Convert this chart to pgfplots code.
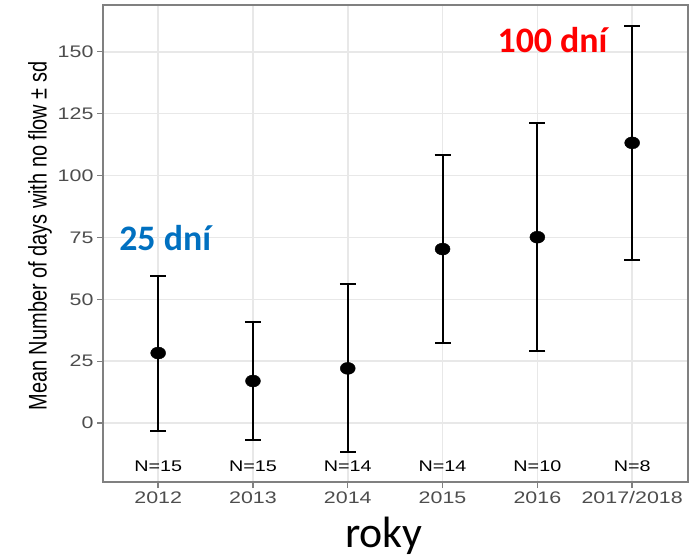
\documentclass[border=0pt]{standalone}
\usepackage{fontspec}
\setmainfont{Liberation Sans}
\newfontfamily\ggfont[FakeStretch=1.28]{Liberation Sans}
\newfontfamily\calib{Carlito}
\usepackage{graphicx}
\usepackage{pgfplots}
\pgfplotsset{compat=1.18}
\definecolor{gridgrey}{RGB}{232,232,232}
\definecolor{framegrey}{RGB}{128,128,128}
\definecolor{ticktext}{RGB}{77,77,77}
\definecolor{annblue}{RGB}{0,112,192}
\definecolor{annred}{RGB}{255,0,0}
\begin{document}
\begin{tikzpicture}
\begin{axis}[name=ax, scale only axis, width=585bp, height=477bp,
  xmin=-0.582, xmax=5.589, ymin=-23.8, ymax=168.9,
  xtick={0,...,5}, xticklabels={2012,2013,2014,2015,2016,2017/2018},
  ytick={0,25,...,150},
  /pgf/number format/assume math mode=true,
  grid=major, grid style={color=gridgrey, line width=1.5bp},
  axis line style={color=framegrey, line width=1.4bp},
  tick style={color=framegrey, line width=1.4bp},
  tick align=outside, major tick length=6bp,
  xtick pos=bottom, ytick pos=left,
  tick label style={font=\ggfont\fontsize{16.8}{18}\selectfont, text=ticktext},
  clip=false]
\addplot[black, only marks, mark=*, mark size=6bp, mark options={xscale=1.25, fill=black},
  error bars/.cd, y dir=both, y explicit,
  error bar style={line width=2bp, black},
  error mark options={rotate=90, mark size=8bp, line width=2bp, black}]
  coordinates {
  (0,28.3) +- (0,31.3)
  (1,17.0) +- (0,24.0)
  (2,22.1) +- (0,33.9)
  (3,70.3) +- (0,38.0)
  (4,75.1) +- (0,46.0)
  (5,113.2) +- (0,47.3)
  };
\begin{scope}[every node/.style={font=\ggfont\fontsize{15.5}{17}\selectfont, text=black}]
\node at (axis cs:0,-17.3) {N=15};
\node at (axis cs:1,-17.3) {N=15};
\node at (axis cs:2,-17.3) {N=14};
\node at (axis cs:3,-17.3) {N=14};
\node at (axis cs:4,-17.3) {N=10};
\node at (axis cs:5,-17.3) {N=8};
\end{scope}
\node[anchor=base, font=\calib\bfseries\fontsize{36}{40}\selectfont, text=annblue, inner sep=0pt] at (axis cs:0.074,69.8) {25 dní};
\node[anchor=base, font=\calib\bfseries\fontsize{36}{40}\selectfont, text=annred, inner sep=0pt] at (axis cs:4.16,149.6) {100 dní};
\end{axis}
\node[anchor=base, font=\calib\fontsize{44}{48}\selectfont, inner sep=0pt] at ([xshift=281bp, yshift=-65bp]ax.south west) {roky};
\node[rotate=90, font=\fontsize{20}{22}\selectfont, inner sep=0pt] at ([xshift=-63bp, yshift=7.5bp]ax.west) {\scalebox{1}[1.28]{Mean Number of days with no flow ± sd}};
\pgfresetboundingbox
\path[use as bounding box] ([shift={(-103bp,-76bp)}]ax.south west) rectangle ([shift={(1bp,5bp)}]ax.north east);
\end{tikzpicture}
\end{document}
